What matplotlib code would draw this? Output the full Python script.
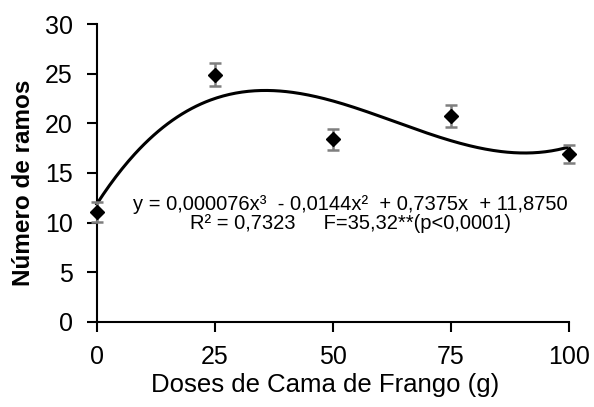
import numpy as np
import matplotlib
matplotlib.use("Agg")
import matplotlib.pyplot as plt

plt.rcParams['font.family'] = ['Liberation Sans', 'DejaVu Sans']

doses = [0, 25, 50, 75, 100]
ramos = [11.1, 24.9, 18.4, 20.7, 16.9]
erro = [1.0, 1.15, 1.05, 1.1, 0.9]
coef = [0.000076, -0.0144, 0.7375, 11.8750]  # cubic fit shown in the chart
xticks = [0, 25, 50, 75, 100]
yticks = [0, 5, 10, 15, 20, 25, 30]

fig = plt.figure(figsize=(5.94, 4.07), dpi=100)
ax = fig.add_axes([0.163, 0.209, 0.795, 0.732])

xs = np.linspace(0, 100, 300)
ax.plot(xs, np.polyval(coef, xs), color='black', lw=2.2, clip_on=False, zorder=2)
ax.errorbar(doses, ramos, yerr=erro, fmt='D', color='black', ms=7,
            ecolor='#7f7f7f', elinewidth=1.8, capsize=4.5, capthick=1.8,
            clip_on=False, zorder=3)

ax.set_xlim(0, 100)
ax.set_ylim(0, 30)
ax.set_xticks(xticks)
ax.set_yticks(yticks)
for s in ['top', 'right']:
    ax.spines[s].set_visible(False)
for s in ['left', 'bottom']:
    ax.spines[s].set_linewidth(1.5)
ax.tick_params(direction='out', length=7, width=1.5, labelsize=18)
ax.tick_params(axis='x', pad=9.5)
ax.tick_params(axis='y', pad=10.5)
ax.set_xlabel('Doses de Cama de Frango (g)', fontsize=18.5, va='center')
ax.xaxis.set_label_coords(0.483, (322 - 385) / 298)
ax.set_ylabel('Número de ramos', fontsize=17.5, fontweight='bold', va='center')
ax.yaxis.set_label_coords((24 - 97) / 472, (322 - 183) / 298)

ax.text(0.537, 0.362, 'y = 0,000076x³  - 0,0144x²  + 0,7375x  + 11,8750\nR² = 0,7323     F=35,32**(p<0,0001)',
        transform=ax.transAxes, ha='center', va='center', fontsize=14.5,
        linespacing=1.0)

fig.savefig('out.png', dpi=100)
